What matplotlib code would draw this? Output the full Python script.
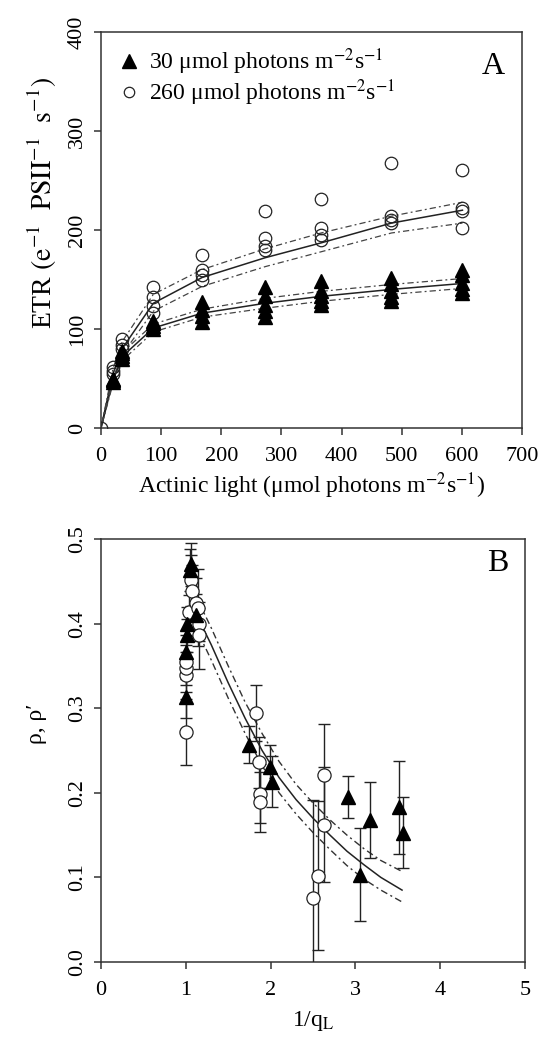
import numpy as np
import matplotlib
matplotlib.use("Agg")
import matplotlib.pyplot as plt

plt.rcParams['font.family'] = ['Liberation Serif', 'DejaVu Serif']
plt.rcParams['mathtext.fontset'] = 'stix'

# ---- Panel A: ETR vs actinic light ----
light = [0, 20, 35, 87, 168, 273, 366, 483, 601]

etr_low = [
    [0],
    [46, 48, 50],
    [70, 73, 76, 78],
    [100, 103, 106, 108],
    [107, 113, 119, 127],
    [112, 118, 124, 133, 142],
    [124, 128, 133, 138, 148],
    [128, 132, 138, 145, 152],
    [136, 140, 146, 155, 160],
]
etr_high = [
    [0],
    [55, 58, 62],
    [80, 84, 90],
    [116, 123, 132, 142],
    [150, 155, 160, 175],
    [180, 184, 192, 219],
    [190, 195, 202, 231],
    [207, 210, 214, 268],
    [202, 219, 222, 261],
]

fit_low = [0, 48, 72, 101, 116, 126, 133, 140, 146]
fit_low_up = [0, 51, 76, 105, 120, 131, 138, 145, 151]
fit_low_dn = [0, 45, 68, 97, 112, 121, 128, 135, 141]
fit_high = [0, 55, 80, 126, 152, 172, 187, 207, 220]
fit_high_up = [0, 60, 87, 135, 160, 181, 197, 214, 228]
fit_high_dn = [0, 50, 74, 118, 143, 163, 178, 197, 207]

# ---- Panel B: rho vs 1/qL ----
tri_x = [1.00, 1.00, 1.01, 1.02, 1.05, 1.06, 1.12, 1.75, 1.99, 2.02, 2.91, 3.05, 3.17, 3.52, 3.56]
tri_y = [0.313, 0.366, 0.386, 0.400, 0.463, 0.470, 0.410, 0.257, 0.231, 0.213, 0.195, 0.103, 0.168, 0.183, 0.153]
tri_e = [0.025, 0.020, 0.020, 0.020, 0.025, 0.025, 0.025, 0.022, 0.025, 0.030, 0.025, 0.055, 0.045, 0.055, 0.042]

cir_x = [1.00, 1.00, 1.00, 1.00, 1.04, 1.06, 1.07, 1.12, 1.14, 1.15, 1.16, 1.83, 1.86, 1.87, 1.88, 2.50, 2.56, 2.63, 2.63]
cir_y = [0.272, 0.339, 0.347, 0.355, 0.414, 0.451, 0.439, 0.424, 0.419, 0.399, 0.386, 0.294, 0.236, 0.199, 0.189, 0.076, 0.102, 0.221, 0.162]
cir_e = [0.039, 0.020, 0.020, 0.020, 0.020, 0.030, 0.030, 0.030, 0.045, 0.020, 0.040, 0.033, 0.030, 0.035, 0.035, 0.115, 0.088, 0.060, 0.068]

curve_x = [1.13, 1.3, 1.5, 1.7, 1.9, 2.1, 2.3, 2.5, 2.7, 2.9, 3.1, 3.3, 3.55]
curve_y = [0.410, 0.375, 0.330, 0.288, 0.250, 0.218, 0.192, 0.170, 0.150, 0.131, 0.115, 0.100, 0.085]
curve_up = [0.430, 0.395, 0.350, 0.307, 0.270, 0.237, 0.210, 0.188, 0.168, 0.150, 0.134, 0.120, 0.107]
curve_dn = [0.393, 0.357, 0.312, 0.270, 0.232, 0.200, 0.175, 0.153, 0.133, 0.114, 0.098, 0.085, 0.071]

dotdash = (0, (1.5, 2.5, 5, 2.5))
FS = 17
TFS = 16


def style_axes(ax):
    for s in ax.spines.values():
        s.set_linewidth(1.1)
        s.set_color('#333333')
    ax.tick_params(direction='out', length=5, width=1.1, color='#333333',
                   labelsize=TFS, pad=5)
    ax.tick_params(axis='x', pad=9)
    for t in ax.get_yticklabels():
        t.set_rotation(90)
        t.set_va('center')


fig = plt.figure(figsize=(5.41, 10.40), dpi=100)

# Panel A
axA = fig.add_axes([101 / 541, 1 - 428 / 1040, 421 / 541, 396 / 1040])
for up, mid, dn in [(fit_low_up, fit_low, fit_low_dn), (fit_high_up, fit_high, fit_high_dn)]:
    axA.plot(light, mid, color='#222222', lw=1.1, zorder=2)
    axA.plot(light, up, color='#444444', lw=0.9, ls=dotdash, zorder=2)
    axA.plot(light, dn, color='#444444', lw=0.9, ls=dotdash, zorder=2)

for xv, vals in zip(light, etr_high):
    axA.plot([xv] * len(vals), vals, 'o', ms=9, mfc='none', mec='#222222', mew=0.9, zorder=3)
for xv, vals in zip(light[1:], etr_low[1:]):
    axA.plot([xv] * len(vals), vals, '^', ms=9.5, color='black', zorder=4)

axA.set_xlim(0, 700)
axA.set_ylim(0, 400)
axA.set_xticks(range(0, 701, 100))
axA.set_yticks(range(0, 401, 100))
axA.set_xlabel('Actinic light (μmol photons m$^{-2}$s$^{-1}$)', fontsize=FS, labelpad=3)
axA.set_ylabel(r'ETR $\left(\mathrm{e^{-1}\ \ PSII^{-1}\ \ s^{-1}}\right)$', fontsize=20, va='center')
axA.yaxis.set_label_coords(-0.14, 0.568)
style_axes(axA)

h1, = axA.plot([], [], '^', ms=9.5, color='black')
h2, = axA.plot([], [], 'o', ms=7.5, mfc='none', mec='#222222', mew=0.9)
axA.legend([h1, h2], ['30 μmol photons m$^{-2}$s$^{-1}$', '260 μmol photons m$^{-2}$s$^{-1}$'],
           loc='upper left', bbox_to_anchor=(0.0, 1.005), frameon=False, fontsize=FS,
           handlelength=1.0, handletextpad=0.35, labelspacing=0.0, borderpad=0.2)
axA.text(0.96, 0.914, 'A', transform=axA.transAxes, fontsize=23, ha='right', va='center')

# Panel B
axB = fig.add_axes([101 / 541, 1 - 962 / 1040, 424 / 541, 423 / 1040])
axB.plot(curve_x, curve_y, color='#222222', lw=1.1, zorder=2)
axB.plot(curve_x, curve_up, color='#333333', lw=1.0, ls=dotdash, zorder=2)
axB.plot(curve_x, curve_dn, color='#333333', lw=1.0, ls=dotdash, zorder=2)

axB.errorbar(tri_x, tri_y, yerr=tri_e, fmt='none', ecolor='#222222', elinewidth=1.0,
             capsize=4.5, capthick=1.0, zorder=3)
axB.errorbar(cir_x, cir_y, yerr=cir_e, fmt='none', ecolor='#222222', elinewidth=1.0,
             capsize=4.5, capthick=1.0, zorder=3)
axB.plot(tri_x, tri_y, '^', ms=9.5, color='black', zorder=5)
axB.plot(cir_x, cir_y, 'o', ms=9.5, mfc='white', mec='#222222', mew=0.9, zorder=4)

axB.set_xlim(0, 5)
axB.set_ylim(0, 0.5)
axB.set_xticks(range(0, 6))
axB.set_yticks(np.arange(0, 0.51, 0.1))
axB.set_yticklabels(['0.0', '0.1', '0.2', '0.3', '0.4', '0.5'])
axB.set_xlabel('1/q$_\\mathrm{L}$', fontsize=FS, labelpad=6)
axB.set_ylabel('ρ, ρ′', fontsize=FS, va='center')
axB.yaxis.set_label_coords(-0.151, 0.563)
style_axes(axB)
axB.text(0.96, 0.943, 'B', transform=axB.transAxes, fontsize=23, ha='right', va='center')

fig.savefig('out.png', dpi=100)
